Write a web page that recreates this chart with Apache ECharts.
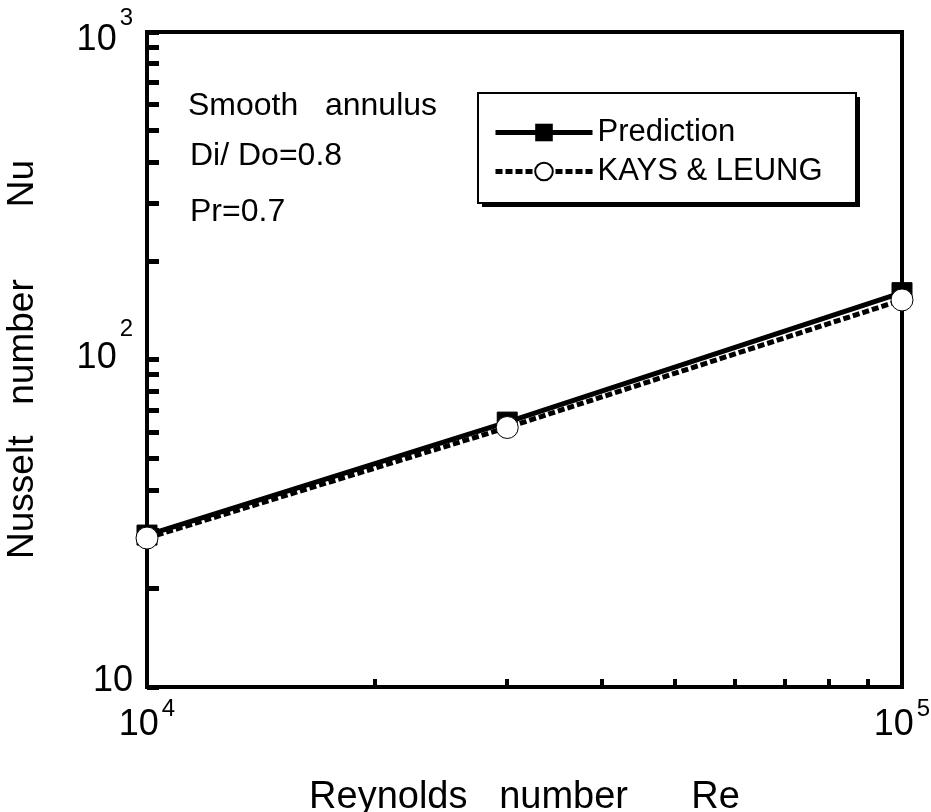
<!DOCTYPE html>
<html>
<head>
<meta charset="utf-8">
<script src="https://cdn.jsdelivr.net/npm/echarts@6/dist/echarts.min.js"></script>
<style>
  html, body { margin: 0; padding: 0; background: #fff; }
  #chart { width: 931px; height: 812px; }
</style>
</head>
<body>
<div id="chart"></div>
<script>
// Reynolds numbers and Nusselt numbers
var reynolds = [10000, 30000, 100000];
var prediction = [29.1, 64.4, 160];
var kaysLeung = [28.5, 62, 152];
var seriesNames = ['Prediction', 'KAYS & LEUNG'];
var notes = ['Smooth   annulus', 'Di/ Do=0.8', 'Pr=0.7'];

var font = '"Liberation Sans", Arial, sans-serif';

// 10, 10^2, 10^3 ... written as rich text with a raised exponent,
// each power gets its own style so the exponent sits like in the scan
function powLabel(v) {
    var e = Math.round(Math.log10(v));
    if (e === 1) return '{b1|10}';
    return '{b' + e + '|10}{s' + e + '|' + e + '}';
}
function base(q) {
    return { fontSize: 36, fontFamily: font, color: '#000', verticalAlign: 'bottom', padding: [0, 0, q, 0] };
}
function sup(raise) {
    return { fontSize: 24, fontFamily: font, color: '#000', verticalAlign: 'top', padding: [0, 0, raise, 3] };
}
var yRich = {
    b1: base(12),
    b2: base(25), s2: sup(60),
    b3: base(0), s3: sup(28)
};
var xRich = {
    b4: base(10), s4: sup(32),
    b5: base(10), s5: sup(32)
};

var chart = echarts.init(document.getElementById('chart'));
chart.setOption({
    animation: false,
    textStyle: { fontFamily: font, color: '#000' },
    grid: {
        left: 147, right: 29, top: 32, bottom: 125,
        outerBoundsMode: 'none',
        show: true, borderColor: '#000', borderWidth: 4
    },
    legend: {
        left: 478, top: 93,
        orient: 'vertical',
        itemWidth: 97, itemHeight: 22, itemGap: 8,
        padding: [24, 18, 22, 15],
        lineStyle: { width: 5 },
        textStyle: { fontSize: 31, lineHeight: 30, fontFamily: font, color: '#000' },
        data: seriesNames
    },
    xAxis: {
        type: 'log', logBase: 10, min: 10000, max: 100000,
        name: 'Reynolds   number      Re', nameLocation: 'middle', nameGap: 92,
        nameTextStyle: { fontSize: 38, fontFamily: font, color: '#000' },
        axisLine: { lineStyle: { color: '#000', width: 4 } },
        axisTick: { show: true, inside: true, length: 8, lineStyle: { color: '#000', width: 4 } },
        minorTick: { show: true, splitNumber: 9, length: 8, lineStyle: { color: '#000', width: 4 } },
        splitLine: { show: false },
        axisLabel: { margin: 10, formatter: powLabel, rich: xRich }
    },
    yAxis: {
        type: 'log', logBase: 10, min: 10, max: 1000,
        name: 'Nusselt   number       Nu', nameLocation: 'middle', nameGap: 106,
        nameTextStyle: { fontSize: 37, fontFamily: font, color: '#000' },
        axisLine: { lineStyle: { color: '#000', width: 4 } },
        axisTick: { show: true, inside: true, length: 12, lineStyle: { color: '#000', width: 5 } },
        minorTick: { show: true, splitNumber: 9, length: 12, lineStyle: { color: '#000', width: 5 } },
        splitLine: { show: false },
        axisLabel: { margin: 14, formatter: powLabel, rich: yRich }
    },
    graphic: [
        // legend frame with its drop shadow
        { type: 'rect', z: 1, shape: { x: 482, y: 97, width: 378, height: 110 }, style: { fill: '#000' } },
        { type: 'rect', z: 2, shape: { x: 478, y: 93, width: 378, height: 110 }, style: { fill: '#fff', stroke: '#000', lineWidth: 2 } },
        { type: 'text', left: 188, top: 90, style: { text: notes[0], font: '32px ' + font, fill: '#000' } },
        { type: 'text', left: 190, top: 140, style: { text: notes[1], font: '32px ' + font, fill: '#000' } },
        { type: 'text', left: 190, top: 196, style: { text: notes[2], font: '32px ' + font, fill: '#000' } }
    ],
    series: [
        {
            name: seriesNames[0], type: 'line',
            data: reynolds.map(function (r, i) { return [r, prediction[i]]; }),
            symbol: 'rect', symbolSize: 20,
            lineStyle: { color: '#000', width: 5 },
            itemStyle: { color: '#000', borderColor: '#000' }
        },
        {
            name: seriesNames[1], type: 'line',
            data: reynolds.map(function (r, i) { return [r, kaysLeung[i]]; }),
            symbol: 'circle', symbolSize: 22,
            lineStyle: { color: '#000', width: 5, type: [7, 3] },
            itemStyle: { color: '#fff', borderColor: '#000', borderWidth: 1 }
        }
    ]
});
</script>
</body>
</html>
